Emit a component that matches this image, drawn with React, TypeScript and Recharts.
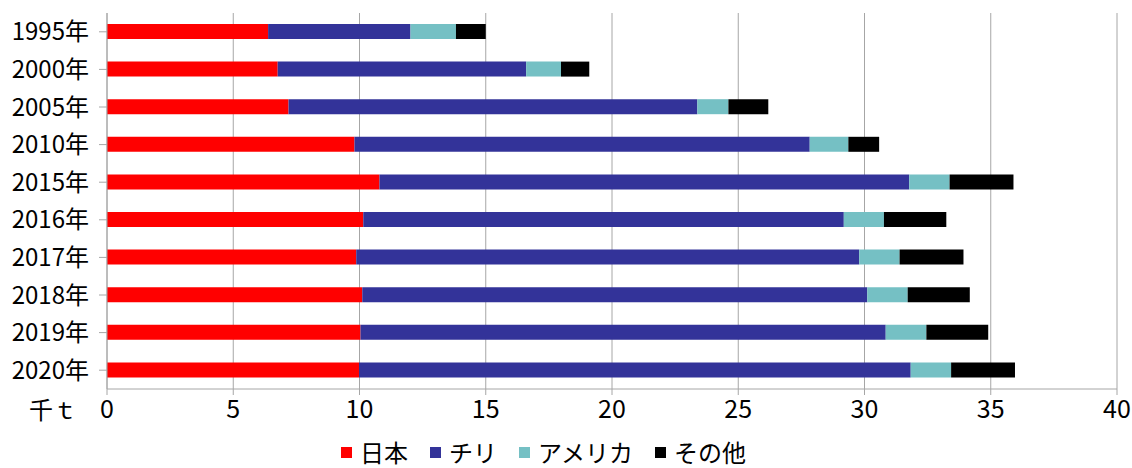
import {
  BarChart,
  Bar,
  XAxis,
  YAxis,
  CartesianGrid,
  Legend,
} from "recharts";

const years = [
  "1995年",
  "2000年",
  "2005年",
  "2010年",
  "2015年",
  "2016年",
  "2017年",
  "2018年",
  "2019年",
  "2020年",
];

// 千t
const japan = [6.38, 6.76, 7.19, 9.8, 10.79, 10.15, 9.87, 10.11, 10.04, 9.98];
const chile = [5.64, 9.84, 16.19, 18.03, 20.98, 19.03, 19.92, 20.0, 20.8, 21.85];
const usa = [1.8, 1.38, 1.23, 1.53, 1.6, 1.59, 1.6, 1.6, 1.61, 1.6];
const others = [1.18, 1.12, 1.58, 1.22, 2.53, 2.47, 2.53, 2.46, 2.45, 2.53];

const xTicks = [0, 5, 10, 15, 20, 25, 30, 35, 40];

const SERIES = [
  { key: "japan", name: "日本", color: "#ff0000" },
  { key: "chile", name: "チリ", color: "#333399" },
  { key: "usa", name: "アメリカ", color: "#75c0c4" },
  { key: "others", name: "その他", color: "#000000" },
];

const data = years.map((year, i) => ({
  year,
  japan: japan[i],
  chile: chile[i],
  usa: usa[i],
  others: others[i],
}));

const FONT = '"Noto Sans CJK JP", "Noto Sans", sans-serif';
const GRID = "#a6a6a6";

function LegendContent() {
  return (
    <div
      style={{
        display: "flex",
        justifyContent: "center",
        alignItems: "center",
        height: 37,
        paddingTop: 5,
        paddingRight: 30,
        boxSizing: "border-box",
        fontFamily: FONT,
        fontSize: 24,
        color: "#000",
        lineHeight: "26px",
      }}
    >
      {SERIES.map((s, i) => (
        <div
          key={s.key}
          style={{
            display: "flex",
            alignItems: "center",
            marginRight: i < SERIES.length - 1 ? 22 : 0,
          }}
        >
          <span
            style={{
              width: 11,
              height: 11,
              backgroundColor: s.color,
              marginRight: 8,
              display: "inline-block",
            }}
          />
          <span>{s.name}</span>
        </div>
      ))}
    </div>
  );
}

export default function App() {
  return (
    <div style={{ width: 1132, height: 468, background: "#fff" }}>
      <style>{`body { margin: 0; }`}</style>
      <BarChart
        width={1132}
        height={468}
        data={data}
        layout="vertical"
        margin={{ top: 13, right: 15, left: 0, bottom: 0 }}
        barSize={15}
      >
        <CartesianGrid horizontal={false} stroke={GRID} />
        <XAxis
          type="number"
          domain={[0, 40]}
          ticks={xTicks}
          interval={0}
          height={42}
          axisLine={{ stroke: GRID }}
          tickLine={{ stroke: GRID }}
          tickSize={6}
          tickMargin={5}
          tick={{ fill: "#000", fontSize: 25, fontFamily: FONT }}
          label={{
            value: "千ｔ",
            position: "left",
            offset: 30,
            fill: "#000",
            fontSize: 24,
            fontFamily: FONT,
          }}
        />
        <YAxis
          type="category"
          dataKey="year"
          width={107}
          axisLine={{ stroke: GRID }}
          tickLine={{ stroke: GRID }}
          tickSize={8}
          tickMargin={10}
          tick={{ fill: "#000", fontSize: 24, fontFamily: FONT }}
        />
        <Legend verticalAlign="bottom" height={37} content={<LegendContent />} />
        {SERIES.map((s) => (
          <Bar
            key={s.key}
            dataKey={s.key}
            name={s.name}
            stackId="a"
            fill={s.color}
            isAnimationActive={false}
          />
        ))}
      </BarChart>
    </div>
  );
}
